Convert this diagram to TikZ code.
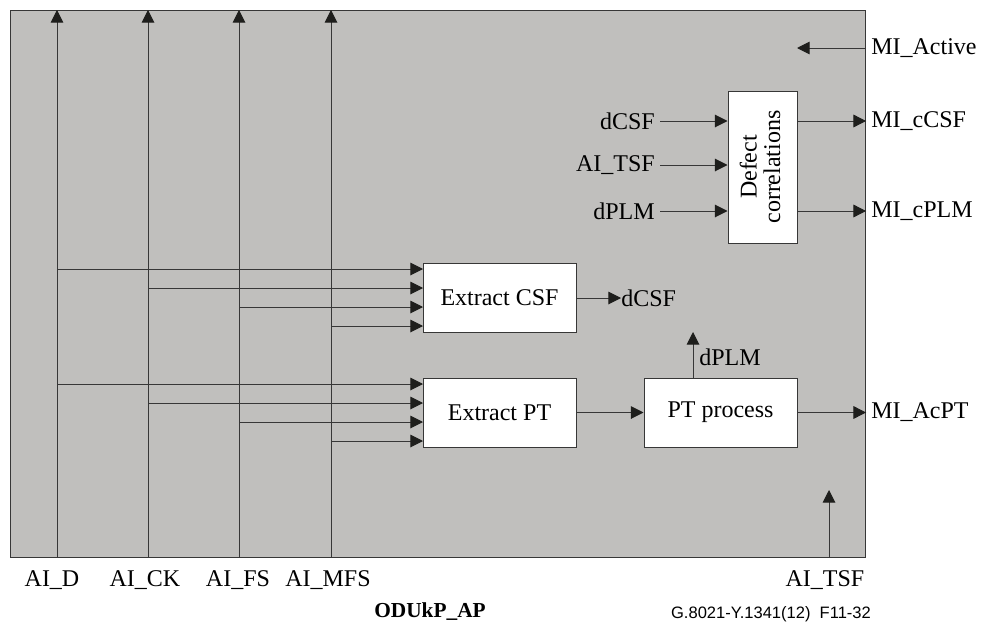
\documentclass[tikz,border=0pt]{standalone}
\usepackage{fontspec}
\setmainfont{Liberation Serif}
\newfontfamily\figsans{Liberation Sans}
\usetikzlibrary{arrows.meta}
\definecolor{bggray}{RGB}{192,191,189}
\definecolor{ln}{RGB}{55,55,55}
\definecolor{tip}{RGB}{30,30,28}
\tikzset{
  sig/.style={draw=ln, line width=0.75pt},
  arr/.style={sig, -{Triangle[length=9.5pt,width=9.5pt,fill=tip,color=tip]}},
  blk/.style={draw=ln, line width=0.75pt, fill=white, inner sep=0pt, font=\fontsize{18}{21.6}\selectfont},
  lbl/.style={inner sep=0pt, font=\fontsize{18}{21.6}\selectfont},
}
\begin{document}
\begin{tikzpicture}[x=0.75pt,y=-0.75pt]
\useasboundingbox (0,0) rectangle (981,621);
% main frame
\node[draw=ln, line width=0.8pt, fill=bggray, minimum width=641.25pt, minimum height=410.25pt, inner sep=0pt, anchor=north west] (frame) at (10,10) {};

% boxes
\node[blk, minimum width=114.75pt, minimum height=51.75pt] (csf) at (499.5,297.5) {Extract CSF};
\node[blk, minimum width=114.75pt, minimum height=51.75pt] (pt) at (499.5,412.5) {Extract PT};
\node[blk, minimum width=114.75pt, minimum height=51.75pt] (ptp) at (720.5,412.5) {PT process};
\node[blk, minimum width=51.75pt, minimum height=114pt] (dc) at (762.5,167) {\rotatebox{90}{\begin{tabular}{@{}c@{}}Defect\\[-4pt]correlations\end{tabular}}};

% vertical AI lines
\coordinate (dB) at (57,557);   \coordinate (dT) at (57,10);
\coordinate (ckB) at (148,557); \coordinate (ckT) at (148,10);
\coordinate (fsB) at (239,557); \coordinate (fsT) at (239,10);
\coordinate (mfB) at (331,557); \coordinate (mfT) at (331,10);
\draw[arr] (dB) -- (dT);
\draw[arr] (ckB) -- (ckT);
\draw[arr] (fsB) -- (fsT);
\draw[arr] (mfB) -- (mfT);

% inputs to Extract CSF
\coordinate (c1) at (423,269); \coordinate (c2) at (423,288);
\coordinate (c3) at (423,307); \coordinate (c4) at (423,326);
\draw[arr] (dB |- c1) -- (c1);
\draw[arr] (ckB |- c2) -- (c2);
\draw[arr] (fsB |- c3) -- (c3);
\draw[arr] (mfB |- c4) -- (c4);

% inputs to Extract PT
\coordinate (p1) at (423,384); \coordinate (p2) at (423,403);
\coordinate (p3) at (423,422); \coordinate (p4) at (423,441);
\draw[arr] (dB |- p1) -- (p1);
\draw[arr] (ckB |- p2) -- (p2);
\draw[arr] (fsB |- p3) -- (p3);
\draw[arr] (mfB |- p4) -- (p4);

% Extract CSF -> dCSF
\node[lbl, anchor=west] (dcsfo) at (621,298) {dCSF};
\draw[arr] (csf.east |- dcsfo) -- (dcsfo.west);

% Extract PT -> PT process
\draw[arr] (pt.east) -- (ptp.west);

% PT process -> dPLM
\coordinate (dplmT) at (693,332);
\draw[arr] (ptp.north -| dplmT) -- (dplmT);
\node[lbl, anchor=west] (dplmo) at (699,357) {dPLM};

% PT process -> MI_AcPT
\node[lbl, anchor=west] (acpt) at (871,412.5) {MI\_AcPT};
\draw[arr] (ptp.east) -- (frame.east |- acpt);

% defect correlation inputs
\node[lbl, anchor=east] (inCSF) at (655,121) {dCSF};
\node[lbl, anchor=east] (inTSF) at (655,165) {AI\_TSF};
\node[lbl, anchor=east] (inPLM) at (655,211) {dPLM};
\draw[arr] ([xshift=3.75pt]inCSF.east) -- (dc.west |- inCSF);
\draw[arr] ([xshift=3.75pt]inTSF.east) -- (dc.west |- inTSF);
\draw[arr] ([xshift=3.75pt]inPLM.east) -- (dc.west |- inPLM);

% defect correlation outputs
\node[lbl, anchor=west] (cCSF) at (871,121) {MI\_cCSF};
\node[lbl, anchor=west] (cPLM) at (871,211) {MI\_cPLM};
\draw[arr] (dc.east |- cCSF) -- (frame.east |- cCSF);
\draw[arr] (dc.east |- cPLM) -- (frame.east |- cPLM);

% MI_Active
\node[lbl, anchor=west] (act) at (871,48) {MI\_Active};
\coordinate (actT) at (797,48);
\draw[arr] (frame.east |- act) -- (actT);

% AI_TSF input
\coordinate (tsfT) at (829,490);
\draw[arr] (frame.south -| tsfT) -- (tsfT);

% bottom labels
\node[lbl, anchor=base] (lD) at (52,586) {AI\_D};
\node[lbl, anchor=base] (lCK) at (145,586) {AI\_CK};
\node[lbl, anchor=base] (lFS) at (238,586) {AI\_FS};
\node[lbl, anchor=base] (lMFS) at (328,586) {AI\_MFS};
\node[lbl, anchor=base] (lTSF) at (825,586) {AI\_TSF};

% titles
\node[inner sep=0pt, anchor=base, font=\fontsize{16}{19}\selectfont\bfseries] (title) at (430,617) {ODUkP\_AP};
\node[inner sep=0pt, anchor=base, font=\figsans\fontsize{12.4}{14}\selectfont] (ref) at (771,618) {G.8021-Y.1341(12)\ \ F11-32};
\end{tikzpicture}
\end{document}
